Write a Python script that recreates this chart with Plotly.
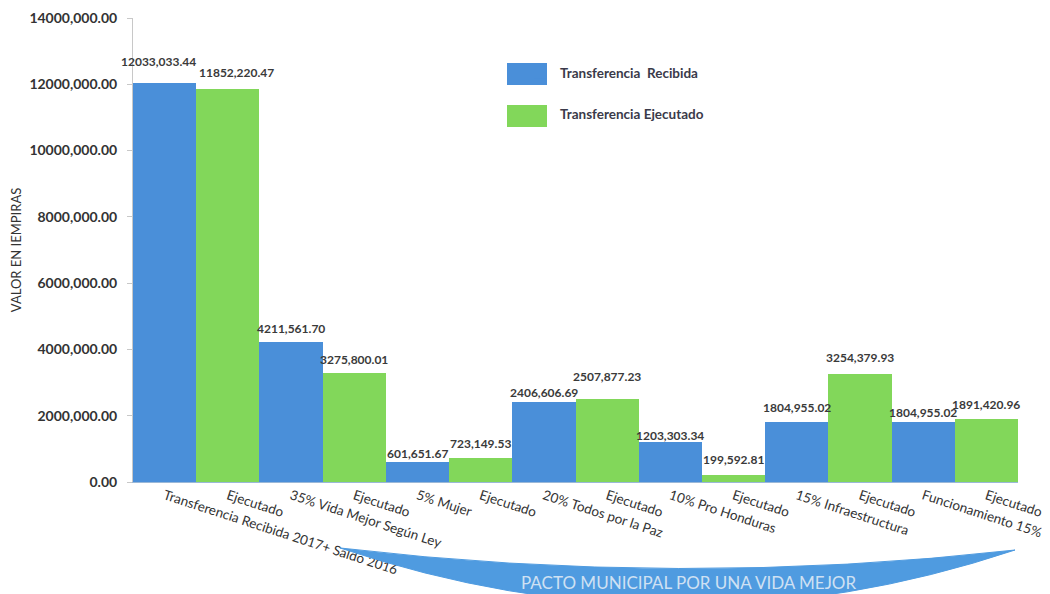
import plotly.graph_objects as go

# ---- data ----
categories = [
    "Transferencia Recibida 2017+ Saldo 2016", "Ejecutado",
    "35% Vida Mejor Según Ley", "Ejecutado",
    "5% Mujer", "Ejecutado",
    "20% Todos por la Paz", "Ejecutado",
    "10% Pro Honduras", "Ejecutado",
    "15% Infraestructura", "Ejecutado",
    "Funcionamiento 15%", "Ejecutado",
]
recibida = [12033033.44, 4211561.70, 601651.67, 2406606.69, 1203303.34, 1804955.02, 1804955.02]
ejecutado = [11852220.47, 3275800.01, 723149.53, 2507877.23, 199592.81, 3254379.93, 1891420.96]
y_ticks = [0, 2000000, 4000000, 6000000, 8000000, 10000000, 12000000, 14000000]

# ---- label placement (style: pixel nudges of the value labels, as in the original) ----
rec_label_dy = [22, 14, 9, 10, 7, 15, 10]
rec_label_dx = [-6, 0, 0, 0, 0, 0, 0]
eje_label_dy = [17, 14, 15, 22, 16, 17, 15]
eje_label_dx = [9, 0, 0, 0, 0, 0, 0]


def fmt(v):
    if v == 0:
        return "0.00"
    return f"{int(v) // 1000},{v % 1000:06.2f}"


pos_rec = [2 * i for i in range(len(recibida))]
pos_eje = [2 * i + 1 for i in range(len(ejecutado))]

BLUE = "#4a8fd9"
GREEN = "#82d75a"
FAM = "Lato, Open Sans, sans-serif"

fig = go.Figure()
fig.add_trace(go.Bar(
    x=pos_rec, y=recibida, width=1, name="Transferencia  Recibida",
    marker=dict(color=BLUE, line=dict(width=0)), legendgroup="a",
))
fig.add_trace(go.Bar(
    x=pos_eje, y=ejecutado, width=1, name="Transferencia Ejecutado",
    marker=dict(color=GREEN, line=dict(width=0)), legendgroup="b",
))

# page (browser) pixel geometry of the plot area; page has an 8px body margin
OFF = 8
L, R, T, B = 133, 1018, 18, 482
FIG_W, FIG_H = 1050 - OFF, 594 - OFF


def px(x, y):
    return (x - L) / (R - L), (B - y) / (B - T)


def pt(x, y):
    a, b = px(x, y)
    return f"{a:.4f},{b:.4f}"


annotations = []
label_font = dict(family=FAM, size=12, color="#3a3a3a", weight=700)
for xs, vals, dys, dxs in ((pos_rec, recibida, rec_label_dy, rec_label_dx),
                           (pos_eje, ejecutado, eje_label_dy, eje_label_dx)):
    for xv, v, dy, dx in zip(xs, vals, dys, dxs):
        annotations.append(dict(x=xv, y=v, xref="x", yref="y", text=fmt(v),
                                showarrow=False, yanchor="middle", xanchor="center",
                                yshift=dy, xshift=dx, font=label_font))

annotations.append(dict(text="PACTO MUNICIPAL POR UNA VIDA MEJOR", xref="paper", yref="paper",
                        x=px(688, 0)[0], y=px(0, 582)[1], showarrow=False,
                        xanchor="center", yanchor="middle",
                        font=dict(family=FAM, size=17, color="#cfe1f3")))

arc = (f"M {pt(340,548)} Q {pt(680,588)} {pt(1015,550)} "
       f"Q {pt(680,662)} {pt(340,548)} Z")


def rect(x0, y0, x1, y1, color):
    a0, b0 = px(x0, y1)
    a1, b1 = px(x1, y0)
    return dict(type="rect", xref="paper", yref="paper", x0=a0, y0=b0, x1=a1, y1=b1,
                fillcolor=color, line=dict(width=0), layer="above")


shapes = [
    dict(type="path", xref="paper", yref="paper", path=arc,
         fillcolor="#4f9be0", line=dict(color="#4f9be0", width=1), layer="above"),
    rect(507, 63, 547, 85, BLUE),
    rect(507, 105, 547, 127, GREEN),
]

fig.update_layout(
    width=FIG_W, height=FIG_H,
    margin=dict(l=L - OFF, r=FIG_W - (R - OFF), t=T - OFF, b=FIG_H - (B - OFF), autoexpand=False),
    paper_bgcolor="white", plot_bgcolor="white",
    barmode="overlay", bargap=0,
    showlegend=True,
    legend=dict(
        x=px(520, 0)[0], y=px(0, 57)[1], xanchor="left", yanchor="top",
        font=dict(family=FAM, size=13.5, color="#3a3a4a", weight=700),
        bgcolor="rgba(0,0,0,0)", traceorder="grouped", tracegroupgap=21,
    ),
    xaxis=dict(
        range=[-0.5, 13.5], tickmode="array", automargin=False,
        tickvals=list(range(len(categories))), ticktext=categories,
        tickangle=18, showline=True, linecolor="#9ab8d8", linewidth=1,
        ticks="", showgrid=False, zeroline=False,
        tickfont=dict(family=FAM, size=13.5, color="#333333"),
    ),
    yaxis=dict(
        range=[0, 14000000], tickmode="array", tickvals=y_ticks, automargin=False,
        ticktext=[fmt(v) for v in y_ticks],
        showline=True, linecolor="#c8c8c8", linewidth=1,
        ticks="outside", ticklen=5, tickcolor="#c8c8c8", ticklabelstandoff=7,
        showgrid=False, zeroline=False,
        tickfont=dict(family=FAM, size=14, color="#333333", weight=700),
        title=dict(text="VALOR EN IEMPIRAS",
                   font=dict(family=FAM, size=13, color="#333333"),
                   standoff=15),
    ),
    shapes=shapes,
    annotations=annotations,
)

fig.write_html("out.html")
